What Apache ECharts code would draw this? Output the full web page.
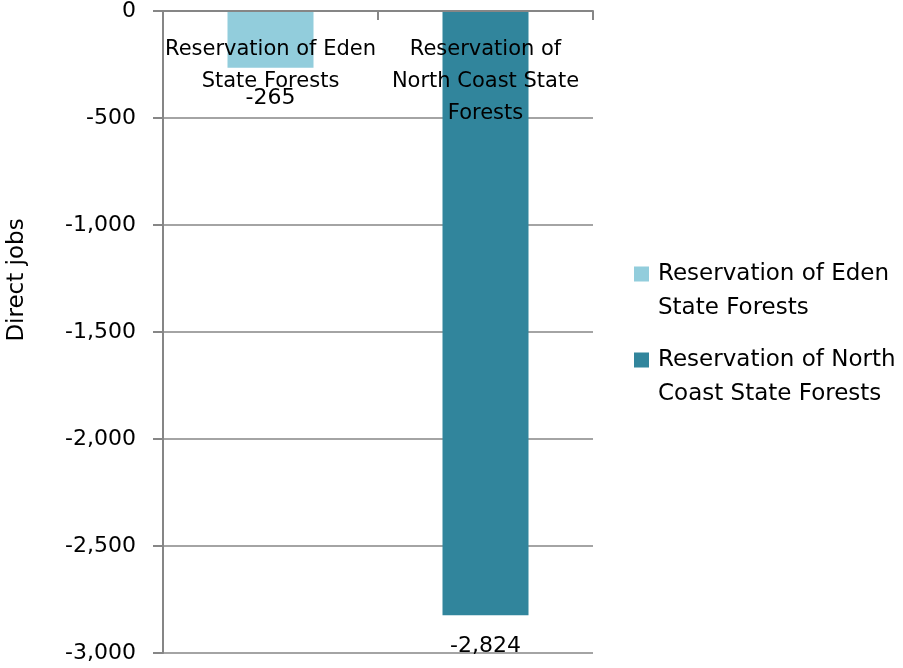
<!DOCTYPE html>
<html>
<head>
<meta charset="utf-8">
<script src="https://cdn.jsdelivr.net/npm/echarts@6/dist/echarts.min.js"></script>
<style>
  html, body { margin: 0; padding: 0; background: #fff; }
  #chart { width: 903px; height: 668px; }
</style>
</head>
<body>
<div id="chart"></div>
<script>
// categories / series
const categories = ['Reservation of Eden\nState Forests', 'Reservation of\nNorth Coast State\nForests'];
const seriesNames = ['Reservation of Eden State Forests', 'Reservation of North Coast State Forests'];
const legendLabels = ['Reservation of Eden\nState Forests', 'Reservation of North\nCoast State Forests'];
const edenJobs = [-265, '-'];
const northCoastJobs = ['-', -2824];
const colors = ['#92CDDC', '#31859C'];

const fmt = v => Number(v).toLocaleString('en-US');
const font = 'DejaVu Sans';

// square on top-left, empty space below/right so the icon lines up with the first text line
const legendIcon = 'path://M0,0H15V15H0Z M19,49H19.01V49.01H19Z';

let myChart = echarts.init(document.getElementById('chart'));
myChart.setOption({
    animation: false,
    textStyle: { fontFamily: font },
    grid: { left: 163, right: 310, top: 11, bottom: 15, outerBoundsMode: 'none', containLabel: false },
    legend: {
        orient: 'vertical',
        left: 634,
        top: 257,
        padding: 0,
        itemWidth: 19,
        itemHeight: 49,
        itemGap: 18,
        icon: legendIcon,
        data: seriesNames,
        formatter: name => legendLabels[seriesNames.indexOf(name)],
        textStyle: { fontSize: 23, lineHeight: 34, color: '#000' }
    },
    xAxis: {
        type: 'category',
        position: 'top',
        z: 10,
        data: categories,
        axisLine: { onZero: false, lineStyle: { color: '#868686', width: 2 } },
        axisTick: { show: true, inside: true, length: 9, lineStyle: { color: '#868686', width: 2 } },
        axisLabel: { inside: true, fontSize: 21, lineHeight: 32, color: '#000', margin: 23, interval: 0 }
    },
    yAxis: {
        type: 'value',
        min: -3000,
        max: 0,
        interval: 500,
        name: 'Direct jobs',
        nameLocation: 'middle',
        nameGap: 134,
        // nudge the title up to where it sits in the original
        nameTextStyle: { fontSize: 23, color: '#000', padding: [0, 0, 0, 104] },
        axisLine: { show: true, lineStyle: { color: '#868686', width: 2 } },
        axisTick: { show: true, length: 10, lineStyle: { color: '#868686', width: 2 } },
        axisLabel: { fontSize: 22, color: '#000', margin: 27, formatter: fmt },
        splitLine: { lineStyle: { color: '#868686', width: 1.5 } }
    },
    series: [
        {
            name: seriesNames[0],
            type: 'bar',
            stack: 'a',
            barWidth: '40%',
            data: edenJobs,
            itemStyle: { color: colors[0] },
            label: { show: true, position: 'bottom', distance: 20, fontSize: 22, color: '#000', formatter: p => fmt(p.value) }
        },
        {
            name: seriesNames[1],
            type: 'bar',
            stack: 'a',
            barWidth: '40%',
            data: northCoastJobs,
            itemStyle: { color: colors[1] },
            label: { show: true, position: 'bottom', distance: 20, fontSize: 22, color: '#000', formatter: p => fmt(p.value) }
        }
    ]
});
</script>
</body>
</html>
